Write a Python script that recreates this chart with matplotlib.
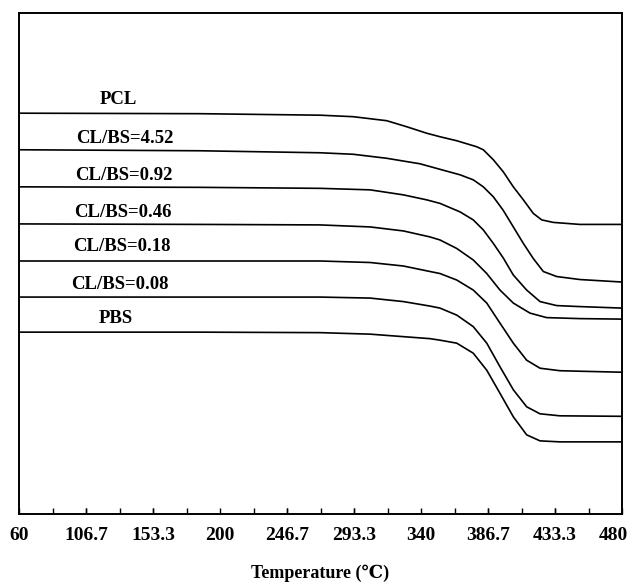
import numpy as np
import matplotlib.pyplot as plt
import matplotlib.transforms as mtransforms

plt.rcParams['font.family'] = ['Liberation Serif', 'DejaVu Serif']
plt.rcParams['font.weight'] = 'bold'

# temperature (C) and relative weight, each curve shifted vertically
t_pcl = [60, 186.1, 269.7, 292.8, 316.1, 330.0, 344.0, 353.2, 364.9, 378.8, 383.4, 390.4, 397.3, 404.3, 411.3, 418.2, 424.1, 432.2, 450.7, 480]
w_pcl = [80.0, 79.9, 79.6, 79.3, 78.5, 77.3, 76.0, 75.3, 74.5, 73.3, 72.7, 70.7, 68.3, 65.3, 62.7, 60.0, 58.7, 58.2, 57.8, 57.8]

t_452 = [60, 186.1, 269.7, 292.8, 316.1, 339.3, 353.2, 367.2, 376.4, 383.4, 390.4, 397.3, 404.3, 411.3, 418.2, 425.2, 434.5, 450.7, 480]
w_452 = [72.7, 72.5, 72.1, 71.8, 71.0, 69.9, 68.8, 67.7, 66.7, 65.3, 63.3, 60.6, 57.3, 54.0, 51.0, 48.4, 47.4, 46.8, 46.3]

t_092 = [60, 186.1, 269.7, 304.5, 327.7, 344.0, 353.2, 367.2, 376.4, 383.4, 390.4, 397.3, 404.3, 413.6, 422.9, 434.5, 450.7, 480]
w_092 = [65.3, 65.2, 65.0, 64.7, 63.7, 62.7, 62.0, 60.3, 58.7, 56.7, 54.0, 51.1, 47.7, 44.7, 42.4, 41.6, 41.4, 41.1]

t_046 = [60, 186.1, 269.7, 304.5, 327.7, 346.3, 353.2, 364.9, 376.4, 385.8, 395.0, 404.3, 415.9, 427.5, 450.7, 480]
w_046 = [57.9, 57.8, 57.7, 57.3, 56.5, 55.3, 54.7, 53.0, 50.7, 48.0, 44.7, 42.1, 40.1, 39.2, 39.0, 38.9]

t_018 = [60, 186.1, 269.7, 304.5, 327.7, 346.3, 353.2, 364.9, 376.4, 385.8, 395.0, 404.3, 413.6, 422.9, 436.8, 450.7, 480]
w_018 = [50.5, 50.5, 50.5, 50.2, 49.5, 48.4, 48.0, 46.7, 44.7, 42.1, 38.1, 34.1, 30.7, 29.1, 28.6, 28.5, 28.3]

t_008 = [60, 186.1, 269.7, 304.5, 327.7, 346.3, 353.2, 364.9, 376.4, 385.8, 395.0, 404.3, 413.6, 422.9, 436.8, 480]
w_008 = [43.3, 43.3, 43.3, 43.1, 42.4, 41.5, 41.1, 39.7, 37.4, 34.1, 29.4, 24.8, 21.4, 20.0, 19.6, 19.5]

t_pbs = [60, 186.1, 269.7, 304.5, 327.7, 346.3, 353.2, 364.9, 376.4, 385.8, 395.0, 404.3, 413.6, 422.9, 436.8, 480]
w_pbs = [36.3, 36.3, 36.2, 35.9, 35.4, 35.0, 34.7, 34.1, 32.1, 28.7, 24.1, 19.4, 15.8, 14.6, 14.4, 14.4]

curves = [(t_pcl, w_pcl), (t_452, w_452), (t_092, w_092), (t_046, w_046),
          (t_018, w_018), (t_008, w_008), (t_pbs, w_pbs)]

names = ['PCL', 'CL/BS=4.52', 'CL/BS=0.92', 'CL/BS=0.46', 'CL/BS=0.18', 'CL/BS=0.08', 'PBS']
name_x = [129.0, 133.8, 133.1, 132.0, 131.7, 130.0, 127.6]
name_y = [81.9, 74.0, 66.7, 59.3, 52.4, 45.0, 38.1]

ticks = [60, 106.7, 153.3, 200, 246.7, 293.3, 340, 386.7, 433.3, 480]
tick_labels = ['60', '106.7', '153.3', '200', '246.7', '293.3', '340', '386.7', '433.3', '480']

fig = plt.figure(figsize=(6.3, 5.82), dpi=100)
ax = fig.add_axes([0.0302, 0.1168, 0.9571, 0.8609])

for t, w in curves:
    ax.plot(t, w, color='black', lw=1.2, solid_joinstyle='round')

for s, x, y in zip(names, name_x, name_y):
    ax.text(x, y, s, ha='center', va='baseline', fontsize=13.5, fontweight='bold')

ax.set_xlim(60, 480)
ax.set_ylim(0, 100)
ax.set_xticks(ticks)
ax.set_xticklabels(tick_labels)
ax.set_xticks(np.arange(60, 481, 420 / 18), minor=True)
ax.set_yticks([])
ax.tick_params(axis='x', which='both', direction='in', length=4, width=1, labelsize=14, pad=9)
labels = ax.get_xticklabels()
for lab in labels:
    lab.set_fontweight('bold')
# last label sits just inside the right edge
shift = mtransforms.ScaledTranslation(-9 / 100, 0, fig.dpi_scale_trans)
labels[-1].set_transform(labels[-1].get_transform() + shift)
for sp in ax.spines.values():
    sp.set_linewidth(1.4)

ax.set_xlabel('Temperature (℃)', fontsize=13, fontweight='bold', labelpad=15)

fig.savefig('out.png', dpi=100)
